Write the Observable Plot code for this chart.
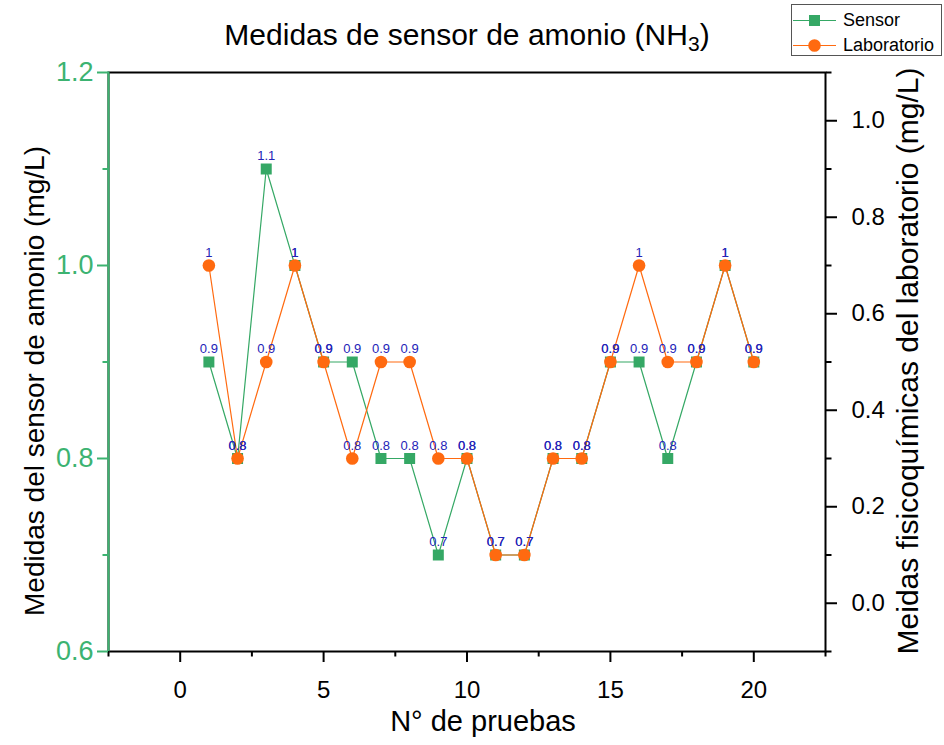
<!DOCTYPE html>
<html>
<head>
<meta charset="utf-8">
<script src="https://cdn.jsdelivr.net/npm/d3@7"></script>
<script src="https://cdn.jsdelivr.net/npm/@observablehq/plot@0.6"></script>
<style>
  body { margin: 0; background: #fff; font-family: "Liberation Sans", Arial, sans-serif; }
  #wrap { position: relative; width: 944px; height: 745px; }
  #title { position: absolute; left: 0; width: 934px; top: 18px; text-align: center; font-size: 30px; line-height: 34px; color: #000; }
  #title .sub { font-size: 0.7em; position: relative; top: 0.3em; }
  #legend { position: absolute; left: 791px; top: 4px; width: 151px; height: 52px; border: 1px solid #555; background: #fff; box-sizing: border-box; }
  .row { position: absolute; left: 0; height: 24px; display: flex; align-items: center; font-size: 18px; }
  .row svg { margin-right: 6px; }
</style>
</head>
<body>
<div id="wrap">
  <div id="chart"></div>
  <div id="title">Medidas de sensor de amonio (NH<span class="sub">3</span>)</div>
  <div id="legend"></div>
</div>
<script>
// ---- data ----
const pruebas = [1,2,3,4,5,6,7,8,9,10,11,12,13,14,15,16,17,18,19,20];
const sensor = [0.9,0.8,1.1,1.0,0.9,0.9,0.8,0.8,0.7,0.8,0.7,0.7,0.8,0.8,0.9,0.9,0.8,0.9,1.0,0.9];
const laboratorio = [1.0,0.8,0.9,1.0,0.9,0.8,0.9,0.9,0.8,0.8,0.7,0.7,0.8,0.8,0.9,1.0,0.9,0.9,1.0,0.9];
const seriesNames = ["Sensor", "Laboratorio"];
const xTicks = [0,5,10,15,20];
const xMinor = [-2.5,2.5,7.5,12.5,17.5,22.5];
const leftTicks = [0.6,0.8,1.0,1.2];
const leftMinor = [0.7,0.9,1.1];
const rightTicks = [0.0,0.2,0.4,0.6,0.8,1.0];
const rightMinor = [-0.1,0.1,0.3,0.5,0.7,0.9,1.1];
const xDomain = [-2.5, 22.5];
const yDomain = [0.6, 1.2];
const rightDomain = [-0.1, 1.1];
const titles = {
  x: "N° de pruebas",
  yLeft: "Medidas del sensor de amonio (mg/L)",
  yRight: "Meidas fisicoquímicas del laboratorio (mg/L)"
};

const GREEN = "#35a865";
const GREEN_AXIS = "#3cb371";
const ORANGE = "#ff6a10";
const BLUE = "#2424b8";

// right-axis value -> left-scale value
const toLeft = r => yDomain[0] + (r - rightDomain[0]) / (rightDomain[1] - rightDomain[0]) * (yDomain[1] - yDomain[0]);
const fromLeft = v => rightDomain[0] + (v - yDomain[0]) / (yDomain[1] - yDomain[0]) * (rightDomain[1] - rightDomain[0]);
const fmt1 = v => { const r = Math.round(v * 10) / 10; return (r === 0 ? 0 : r).toFixed(1); };

const sData = pruebas.map((p, i) => ({x: p, y: sensor[i]}));
const lData = pruebas.map((p, i) => ({x: p, y: laboratorio[i]}));

const chart = Plot.plot({
  width: 944,
  height: 745,
  marginLeft: 108,
  marginRight: 119,
  marginTop: 72,
  marginBottom: 94,
  style: {fontFamily: "'Liberation Sans', Arial, sans-serif", background: "white", color: "#000"},
  x: {domain: xDomain},
  y: {domain: yDomain},
  marks: [
    Plot.frame({stroke: "black", strokeWidth: 2}),
    Plot.frame({anchor: "left", stroke: GREEN_AXIS, strokeWidth: 2}),
    // x axis
    Plot.axisX(xTicks, {tickSize: 11, tickPadding: 18, fontSize: 24, strokeWidth: 2, label: null, tickFormat: d => String(d)}),
    Plot.axisX(xMinor, {tickSize: 5.5, strokeWidth: 2, label: null, tickFormat: () => ""}),
    // left axis
    Plot.axisY(leftTicks, {anchor: "left", tickSize: 11, tickPadding: 4, fontSize: 27, strokeWidth: 2, color: GREEN_AXIS, label: null, tickFormat: d => d.toFixed(1)}),
    Plot.axisY(leftMinor, {anchor: "left", tickSize: 5.5, strokeWidth: 2, color: GREEN_AXIS, label: null, tickFormat: () => ""}),
    // right axis
    Plot.axisY(rightTicks.map(toLeft), {anchor: "right", tickSize: 11, tickPadding: 15, fontSize: 24, strokeWidth: 2, label: null, tickFormat: v => fmt1(fromLeft(v))}),
    Plot.axisY(rightMinor.map(toLeft), {anchor: "right", tickSize: 5.5, strokeWidth: 2, label: null, tickFormat: () => ""}),
    // axis titles
    Plot.text([titles.yLeft], {frameAnchor: "left", textAnchor: "middle", lineAnchor: "middle", rotate: -90, dx: -73, dy: 19, fontSize: 28, fill: "#000"}),
    Plot.text([titles.yRight], {frameAnchor: "right", textAnchor: "middle", lineAnchor: "middle", rotate: -90, dx: 83, dy: -1, fontSize: 30, fill: "#000"}),
    Plot.text([titles.x], {frameAnchor: "bottom", textAnchor: "middle", lineAnchor: "middle", dx: 16, dy: 70, fontSize: 29, fill: "#000"}),
    // series
    Plot.line(sData, {x: "x", y: "y", stroke: GREEN, strokeWidth: 1.2}),
    Plot.dot(sData, {x: "x", y: "y", symbol: "square", r: 6.2, fill: GREEN, stroke: "none"}),
    Plot.line(lData, {x: "x", y: "y", stroke: ORANGE, strokeWidth: 1.2}),
    Plot.dot(lData, {x: "x", y: "y", symbol: "circle", r: 6.3, fill: ORANGE, stroke: "none"}),
    // value labels
    Plot.text(sData, {x: "x", y: "y", text: d => String(d.y), dy: -13, fill: BLUE, fontSize: 13}),
    Plot.text(lData, {x: "x", y: "y", text: d => String(d.y), dy: -13, fill: BLUE, fontSize: 13})
  ]
});
document.getElementById("chart").appendChild(chart);

// legend
const legend = document.getElementById("legend");
const swatch = (color, shape) => {
  const mk = shape === "square"
    ? `<rect x="17" y="5" width="11" height="11" fill="${color}"/>`
    : `<circle cx="22.5" cy="10.5" r="6.3" fill="${color}"/>`;
  return `<svg width="45" height="21"><line x1="1" x2="44" y1="10.5" y2="10.5" stroke="${color}" stroke-width="1.2"/>${mk}</svg>`;
};
[[seriesNames[0], GREEN, "square", 3], [seriesNames[1], ORANGE, "circle", 28]].forEach(([name, c, s, top]) => {
  const row = document.createElement("div");
  row.className = "row";
  row.style.top = top + "px";
  row.innerHTML = swatch(c, s) + `<span>${name}</span>`;
  legend.appendChild(row);
});
</script>
</body>
</html>
